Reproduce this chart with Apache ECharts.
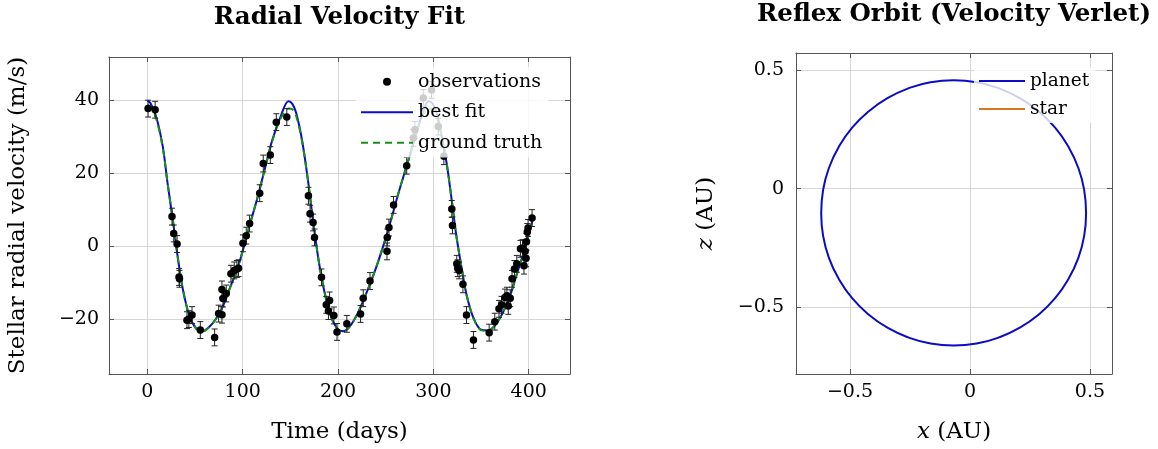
<!DOCTYPE html>
<html>
<head>
<meta charset="utf-8">
<script src="https://cdn.jsdelivr.net/npm/echarts@6/dist/echarts.min.js"></script>
<style>
  html, body { margin: 0; padding: 0; background: #fff; }
  #chart { width: 1158px; height: 449px; }
</style>
</head>
<body>
<div id="chart"></div>
<script>
// observations (days, m/s)
var obsT = [0.7, 8.1, 25.8, 27.6, 31.1, 33.2, 33.6, 41.5, 43.5, 46.8, 55.5, 70.5, 74.7, 78.2, 78.2, 79.2, 82.7,
  87.6, 91.1, 93.9, 95.6, 100.2, 103.7, 107.2, 117.8, 121.5, 128.9, 135.2, 146.2,
  168.9, 170.6, 173.8, 175.3, 182.6, 187.6, 189.9, 191.1, 195.6, 198.9, 209.2, 223.6, 226.4, 233.5,
  251.3, 251.6, 253.4, 258.2, 272.0, 278.9, 280.6, 289.4, 298.1, 305.1, 311.0,
  319.3, 320.0, 324.5, 325.5, 327.0, 331.0, 334.7, 342.0, 358.5, 364.4, 368.8, 371.5, 375.0, 377.1,
  378.5, 380.6, 382.5, 385.0, 387.5, 391.3, 393.5, 395.0, 396.2, 397.2, 397.6, 398.5, 399.3, 403.5];
var obsV = [37.6, 37.3, 8.1, 3.5, 0.6, -8.4, -8.9, -20.2, -19.9, -18.8, -22.9, -24.9, -18.4, -18.7, -11.8, -14.3, -12.9,
  -7.5, -6.6, -6.2, -6.0, 0.8, 2.9, 6.2, 14.5, 22.6, 24.9, 33.9, 35.3,
  13.8, 8.9, 6.5, 2.4, -8.5, -16.0, -17.7, -14.8, -18.9, -23.4, -21.2, -18.5, -14.2, -9.5,
  -1.4, 2.4, 5.1, 11.3, 22.0, 29.6, 31.8, 40.5, 42.7, 32.7, 24.6,
  10.2, 5.7, -4.8, -6.0, -6.6, -10.4, -18.8, -25.6, -23.6, -20.6, -17.1, -16.0, -14.0, -13.5,
  -16.3, -14.2, -8.9, -6.2, -4.8, -0.7, -0.5, -5.3, -1.4, -3.3, 1.2, 3.9, 5.0, 7.7];
var obsErr = 2.3;

// fitted and true curves
var fitT = [0, 3, 9, 16, 21, 27, 32, 37, 44, 51, 58, 65, 72, 79, 86, 96, 106, 116, 124, 131, 140, 148, 152, 156,
  162, 168, 174, 180, 186, 192, 199, 205, 212, 220, 230, 241, 252, 263, 272, 280, 288, 295, 299, 303,
  308, 314, 319, 324, 330, 335, 342, 350, 357, 364, 372, 380, 388, 396, 404];
var fitV = [39.8, 39.2, 35.6, 27.4, 17.5, 6.5, -3.3, -11.5, -19.0, -22.4, -23.2, -22.0, -19.8, -16.5, -11.8, -4.8, 4.6, 13.8, 22.0, 29.0, 35.6, 39.6, 38.9, 36.5,
  29.3, 18.8, 6.5, -4.5, -12.8, -18.8, -22.4, -23.2, -22.0, -18.6, -12.6, -5.0, 4.0, 14.2, 22.0, 29.0, 35.8, 39.6, 39.0, 36.8,
  31.0, 22.5, 13.0, 3.0, -6.5, -13.5, -19.6, -22.8, -23.0, -21.8, -18.6, -13.8, -7.2, -0.6, 7.2];
var truthV = [38.6, 38.2, 35.0, 27.0, 17.5, 6.5, -3.3, -11.5, -19.0, -22.5, -23.3, -22.0, -19.8, -16.5, -11.8, -4.8, 4.6, 13.8, 22.0, 28.8, 35.0, 37.6, 37.4, 35.6,
  29.0, 18.8, 6.5, -4.5, -12.8, -18.8, -22.5, -23.3, -22.0, -18.6, -12.6, -5.0, 4.0, 14.2, 22.0, 28.8, 35.2, 37.6, 37.4, 36.0,
  30.8, 22.5, 13.0, 3.0, -6.5, -13.5, -19.6, -22.9, -23.1, -21.8, -18.6, -13.8, -7.2, -0.6, 7.2];

// reflex orbit (AU)
var planetX = [0.484, 0.476, 0.451, 0.410, 0.355, 0.287, 0.208, 0.121, 0.028, -0.068, -0.164, -0.257, -0.344, -0.423, -0.491, -0.546, -0.587, -0.612,
  -0.620, -0.612, -0.587, -0.546, -0.491, -0.423, -0.344, -0.257, -0.164, -0.068, 0.028, 0.121, 0.208, 0.287, 0.355, 0.410, 0.451, 0.476, 0.484];
var planetZ = [-0.102, -0.005, 0.089, 0.177, 0.257, 0.325, 0.381, 0.422, 0.448, 0.456, 0.448, 0.422, 0.381, 0.325, 0.257, 0.177, 0.089, -0.005,
  -0.102, -0.199, -0.293, -0.381, -0.461, -0.529, -0.585, -0.626, -0.652, -0.660, -0.652, -0.626, -0.585, -0.529, -0.461, -0.381, -0.293, -0.199, -0.102];
var starX = [0.0006, 0.0002, -0.0004, -0.0006, 0.0001, 0.0006];
var starZ = [0.0001, 0.0006, 0.0004, -0.0003, -0.0007, 0.0001];

var FONT = 'DejaVu Serif';
var AXIS = '#555';
var GRID = '#d6d6d6';
var BLUE = '#0b0bc4';
var GREEN = '#17901a';
var ORANGE = '#d9771e';

function pairs(xs, ys) {
  var out = [];
  for (var i = 0; i < xs.length; i++) out.push([xs[i], ys[i]]);
  return out;
}

// only label the round ticks, minus sign like TeX
function tickFmt(step) {
  return function (v) {
    var k = v / step;
    if (Math.abs(k - Math.round(k)) > 1e-6) return '';
    var r = parseFloat((Math.round(k) * step).toFixed(3));
    return r < 0 ? '\u2212' + Math.abs(r) : String(r);
  };
}

var nameStyle = {
  fontFamily: FONT, fontSize: 23, color: '#000',
  rich: { i: { fontFamily: FONT, fontStyle: 'italic', fontSize: 23, color: '#000' } }
};

function mainAxis(pos, gridIndex, min, max, split, step, name, gap, margin) {
  return {
    type: 'value', gridIndex: gridIndex, position: pos, min: min, max: max, splitNumber: split,
    name: name, nameLocation: 'middle', nameGap: gap, nameTextStyle: nameStyle,
    axisLine: { show: true, onZero: false, lineStyle: { color: AXIS, width: 1 } },
    axisTick: { show: true, inside: true, length: 5, lineStyle: { color: AXIS } },
    axisLabel: { fontFamily: FONT, fontSize: 19, color: '#000', margin: margin, formatter: tickFmt(step) },
    splitLine: { show: true, lineStyle: { color: GRID, width: 1 } }
  };
}

function mirrorAxis(pos, gridIndex, min, max, split) {
  return {
    type: 'value', gridIndex: gridIndex, position: pos, min: min, max: max, splitNumber: split,
    axisLine: { show: true, onZero: false, lineStyle: { color: AXIS, width: 1 } },
    axisTick: { show: true, inside: true, length: 5, lineStyle: { color: AXIS } },
    axisLabel: { show: false },
    splitLine: { show: false }
  };
}

// legend line icons without the dot in the middle
var noDot = { color: 'rgba(0,0,0,0)', borderColor: 'rgba(0,0,0,0)', borderWidth: 0 };

var chart = echarts.init(document.getElementById('chart'));

var option = {
  animation: false,
  backgroundColor: '#fff',
  title: [
    { text: 'Radial Velocity Fit', left: 339.5, top: 5, textAlign: 'center', padding: 0,
      textStyle: { fontFamily: FONT, fontWeight: 'bold', fontSize: 24.5, color: '#000' } },
    { text: 'Reflex Orbit (Velocity Verlet)', left: 954, top: 2, textAlign: 'center', padding: 0,
      textStyle: { fontFamily: FONT, fontWeight: 'bold', fontSize: 24.5, color: '#000' } }
  ],
  grid: [
    { left: 109, right: 588, top: 57, bottom: 73 },
    { left: 796, right: 46, top: 53, bottom: 73 }
  ],
  legend: [
    {
      data: [
        { name: 'observations', icon: 'circle' },
        { name: 'best fit', itemStyle: noDot },
        { name: 'ground truth', itemStyle: noDot }
      ],
      orient: 'vertical', left: 356, top: 67, padding: [3, 6, 3, 4], z: 10,
      itemWidth: 52, itemHeight: 8, itemGap: 7,
      backgroundColor: 'rgba(255,255,255,0.8)',
      textStyle: { fontFamily: FONT, fontSize: 19, color: '#000', lineHeight: 23.5 }
    },
    {
      data: [{ name: 'planet', itemStyle: noDot }, { name: 'star', itemStyle: noDot }],
      orient: 'vertical', left: 974, top: 67, padding: [3, 6, 3, 4], z: 10,
      itemWidth: 46, itemHeight: 8, itemGap: 6,
      backgroundColor: 'rgba(255,255,255,0.8)',
      textStyle: { fontFamily: FONT, fontSize: 18.5, color: '#000', lineHeight: 22 }
    }
  ],
  xAxis: [
    mainAxis('bottom', 0, -40.3, 443.3, 5, 100, 'Time (days)', 47, 9),
    mirrorAxis('top', 0, -40.3, 443.3, 5),
    mainAxis('bottom', 1, -0.725, 0.592, 3, 0.5, '{i|x} (AU)', 47, 9),
    mirrorAxis('top', 1, -0.725, 0.592, 3)
  ],
  yAxis: [
    mainAxis('left', 0, -34.9, 51.7, 4, 20, 'Stellar radial velocity (m/s)', 79, 10),
    mirrorAxis('right', 0, -34.9, 51.7, 4),
    mainAxis('left', 1, -0.78, 0.571, 3, 0.5, '{i|z} (AU)', 78, 12),
    mirrorAxis('right', 1, -0.78, 0.571, 3)
  ],
  series: [
    {
      name: 'best fit', type: 'line', xAxisIndex: 0, yAxisIndex: 0,
      data: pairs(fitT, fitV), symbol: 'circle', showSymbol: false, smooth: 0.35, z: 2,
      lineStyle: { color: BLUE, width: 2 }, itemStyle: { color: BLUE }
    },
    {
      name: 'ground truth', type: 'line', xAxisIndex: 0, yAxisIndex: 0,
      data: pairs(fitT, truthV), symbol: 'circle', showSymbol: false, smooth: 0.35, z: 3,
      lineStyle: { color: GREEN, width: 2, type: [7, 5] }, itemStyle: { color: GREEN }
    },
    {
      name: 'errors', type: 'custom', xAxisIndex: 0, yAxisIndex: 0, z: 4,
      data: obsT.map(function (t, i) { return [t, obsV[i] - obsErr, obsV[i] + obsErr]; }),
      renderItem: function (params, api) {
        var lo = api.coord([api.value(0), api.value(1)]);
        var hi = api.coord([api.value(0), api.value(2)]);
        var w = 3;
        var st = { stroke: '#222', lineWidth: 1 };
        return {
          type: 'group',
          children: [
            { type: 'line', shape: { x1: lo[0], y1: lo[1], x2: hi[0], y2: hi[1] }, style: st },
            { type: 'line', shape: { x1: lo[0] - w, y1: lo[1], x2: lo[0] + w, y2: lo[1] }, style: st },
            { type: 'line', shape: { x1: hi[0] - w, y1: hi[1], x2: hi[0] + w, y2: hi[1] }, style: st }
          ]
        };
      }
    },
    {
      name: 'observations', type: 'scatter', xAxisIndex: 0, yAxisIndex: 0, z: 5,
      data: pairs(obsT, obsV), symbol: 'circle', symbolSize: 7.5,
      itemStyle: { color: '#000', opacity: 1 }
    },
    {
      name: 'planet', type: 'line', xAxisIndex: 2, yAxisIndex: 2,
      data: pairs(planetX, planetZ), symbol: 'circle', showSymbol: false, smooth: true,
      lineStyle: { color: BLUE, width: 2 }, itemStyle: { color: BLUE }
    },
    {
      name: 'star', type: 'line', xAxisIndex: 2, yAxisIndex: 2,
      data: pairs(starX, starZ), symbol: 'circle', showSymbol: false,
      lineStyle: { color: ORANGE, width: 2 }, itemStyle: { color: ORANGE }
    }
  ]
};

chart.setOption(option);
</script>
</body>
</html>
